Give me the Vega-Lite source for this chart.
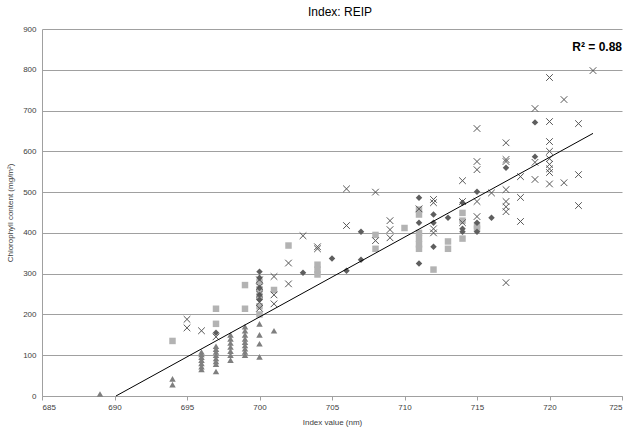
{
  "$schema": "https://vega.github.io/schema/vega-lite/v6.json",
  "width": 580,
  "height": 367,
  "autosize": {"type": "none"},
  "padding": {"left": 42, "top": 29, "right": 8, "bottom": 43},
  "background": "white",
  "config": {
    "font": "Liberation Sans",
    "view": {"stroke": null},
    "axis": {
      "labelFont": "Liberation Sans",
      "titleFont": "Liberation Sans",
      "labelFontSize": 8,
      "titleFontSize": 8,
      "titleFontWeight": "normal",
      "labelColor": "#404040",
      "titleColor": "#404040",
      "domainColor": "#a0a0a0",
      "tickColor": "#a0a0a0",
      "gridColor": "#a0a0a0",
      "gridOpacity": 1
    }
  },
  "title": {
    "text": "Index: REIP",
    "fontSize": 12,
    "fontWeight": "normal",
    "font": "Liberation Sans",
    "color": "#000000",
    "anchor": "middle",
    "offset": 6,
    "dx": 8
  },
  "datasets": {
    "pts": [
      {"x": 689, "y": 5, "s": "T"},
      {"x": 694, "y": 42, "s": "T"}, {"x": 694, "y": 28, "s": "T"},
      {"x": 696, "y": 65, "s": "T"}, {"x": 696, "y": 72, "s": "T"}, {"x": 696, "y": 80, "s": "T"}, {"x": 696, "y": 88, "s": "T"}, {"x": 696, "y": 95, "s": "T"}, {"x": 696, "y": 102, "s": "T"}, {"x": 696, "y": 108, "s": "T"},
      {"x": 697, "y": 60, "s": "T"}, {"x": 697, "y": 78, "s": "T"}, {"x": 697, "y": 85, "s": "T"}, {"x": 697, "y": 92, "s": "T"}, {"x": 697, "y": 100, "s": "T"}, {"x": 697, "y": 108, "s": "T"}, {"x": 697, "y": 115, "s": "T"}, {"x": 697, "y": 122, "s": "T"},
      {"x": 698, "y": 88, "s": "T"}, {"x": 698, "y": 100, "s": "T"}, {"x": 698, "y": 110, "s": "T"}, {"x": 698, "y": 120, "s": "T"}, {"x": 698, "y": 130, "s": "T"}, {"x": 698, "y": 140, "s": "T"}, {"x": 698, "y": 150, "s": "T"},
      {"x": 699, "y": 100, "s": "T"}, {"x": 699, "y": 108, "s": "T"}, {"x": 699, "y": 116, "s": "T"}, {"x": 699, "y": 124, "s": "T"}, {"x": 699, "y": 132, "s": "T"}, {"x": 699, "y": 140, "s": "T"}, {"x": 699, "y": 150, "s": "T"}, {"x": 699, "y": 160, "s": "T"}, {"x": 699, "y": 170, "s": "T"},
      {"x": 700, "y": 96, "s": "T"}, {"x": 700, "y": 128, "s": "T"}, {"x": 700, "y": 150, "s": "T"}, {"x": 700, "y": 177, "s": "T"},
      {"x": 701, "y": 160, "s": "T"},
      {"x": 694, "y": 135, "s": "S"},
      {"x": 697, "y": 214, "s": "S"}, {"x": 697, "y": 177, "s": "S"},
      {"x": 699, "y": 272, "s": "S"}, {"x": 699, "y": 214, "s": "S"},
      {"x": 700, "y": 200, "s": "S"}, {"x": 700, "y": 220, "s": "S"}, {"x": 700, "y": 245, "s": "S"}, {"x": 700, "y": 262, "s": "S"}, {"x": 700, "y": 280, "s": "S"},
      {"x": 701, "y": 260, "s": "S"},
      {"x": 702, "y": 369, "s": "S"},
      {"x": 704, "y": 298, "s": "S"}, {"x": 704, "y": 310, "s": "S"}, {"x": 704, "y": 322, "s": "S"},
      {"x": 708, "y": 395, "s": "S"}, {"x": 708, "y": 361, "s": "S"},
      {"x": 710, "y": 412, "s": "S"},
      {"x": 711, "y": 457, "s": "S"}, {"x": 711, "y": 445, "s": "S"}, {"x": 711, "y": 400, "s": "S"}, {"x": 711, "y": 386, "s": "S"}, {"x": 711, "y": 372, "s": "S"}, {"x": 711, "y": 361, "s": "S"},
      {"x": 712, "y": 310, "s": "S"},
      {"x": 713, "y": 379, "s": "S"}, {"x": 713, "y": 361, "s": "S"},
      {"x": 714, "y": 449, "s": "S"}, {"x": 714, "y": 430, "s": "S"}, {"x": 714, "y": 386, "s": "S"},
      {"x": 715, "y": 418, "s": "S"}, {"x": 715, "y": 410, "s": "S"},
      {"x": 697, "y": 155, "s": "D"},
      {"x": 700, "y": 305, "s": "D"}, {"x": 700, "y": 290, "s": "D"}, {"x": 700, "y": 265, "s": "D"}, {"x": 700, "y": 248, "s": "D"}, {"x": 700, "y": 236, "s": "D"},
      {"x": 703, "y": 302, "s": "D"},
      {"x": 705, "y": 337, "s": "D"},
      {"x": 706, "y": 307, "s": "D"},
      {"x": 707, "y": 403, "s": "D"}, {"x": 707, "y": 334, "s": "D"},
      {"x": 711, "y": 486, "s": "D"}, {"x": 711, "y": 425, "s": "D"}, {"x": 711, "y": 325, "s": "D"},
      {"x": 712, "y": 445, "s": "D"}, {"x": 712, "y": 425, "s": "D"}, {"x": 712, "y": 366, "s": "D"},
      {"x": 713, "y": 437, "s": "D"},
      {"x": 714, "y": 474, "s": "D"}, {"x": 714, "y": 410, "s": "D"}, {"x": 714, "y": 403, "s": "D"},
      {"x": 715, "y": 501, "s": "D"}, {"x": 715, "y": 425, "s": "D"}, {"x": 715, "y": 403, "s": "D"},
      {"x": 716, "y": 437, "s": "D"},
      {"x": 717, "y": 560, "s": "D"},
      {"x": 719, "y": 671, "s": "D"}, {"x": 719, "y": 587, "s": "D"},
      {"x": 695, "y": 188, "s": "X"}, {"x": 695, "y": 167, "s": "X"},
      {"x": 696, "y": 160, "s": "X"},
      {"x": 697, "y": 145, "s": "X"},
      {"x": 700, "y": 285, "s": "X"}, {"x": 700, "y": 268, "s": "X"}, {"x": 700, "y": 250, "s": "X"}, {"x": 700, "y": 230, "s": "X"}, {"x": 700, "y": 215, "s": "X"},
      {"x": 701, "y": 293, "s": "X"}, {"x": 701, "y": 248, "s": "X"}, {"x": 701, "y": 226, "s": "X"},
      {"x": 702, "y": 326, "s": "X"}, {"x": 702, "y": 275, "s": "X"},
      {"x": 703, "y": 393, "s": "X"},
      {"x": 704, "y": 366, "s": "X"}, {"x": 704, "y": 361, "s": "X"},
      {"x": 706, "y": 508, "s": "X"}, {"x": 706, "y": 418, "s": "X"},
      {"x": 708, "y": 500, "s": "X"}, {"x": 708, "y": 381, "s": "X"},
      {"x": 709, "y": 430, "s": "X"}, {"x": 709, "y": 408, "s": "X"}, {"x": 709, "y": 388, "s": "X"},
      {"x": 711, "y": 459, "s": "X"},
      {"x": 712, "y": 482, "s": "X"}, {"x": 712, "y": 474, "s": "X"}, {"x": 712, "y": 410, "s": "X"}, {"x": 712, "y": 400, "s": "X"},
      {"x": 714, "y": 528, "s": "X"}, {"x": 714, "y": 477, "s": "X"}, {"x": 714, "y": 425, "s": "X"},
      {"x": 715, "y": 656, "s": "X"}, {"x": 715, "y": 575, "s": "X"}, {"x": 715, "y": 555, "s": "X"}, {"x": 715, "y": 477, "s": "X"}, {"x": 715, "y": 440, "s": "X"},
      {"x": 716, "y": 498, "s": "X"},
      {"x": 717, "y": 621, "s": "X"}, {"x": 717, "y": 580, "s": "X"}, {"x": 717, "y": 575, "s": "X"}, {"x": 717, "y": 506, "s": "X"}, {"x": 717, "y": 477, "s": "X"}, {"x": 717, "y": 464, "s": "X"}, {"x": 717, "y": 452, "s": "X"}, {"x": 717, "y": 278, "s": "X"},
      {"x": 718, "y": 538, "s": "X"}, {"x": 718, "y": 487, "s": "X"}, {"x": 718, "y": 428, "s": "X"},
      {"x": 719, "y": 705, "s": "X"}, {"x": 719, "y": 573, "s": "X"}, {"x": 719, "y": 531, "s": "X"},
      {"x": 720, "y": 781, "s": "X"}, {"x": 720, "y": 673, "s": "X"}, {"x": 720, "y": 624, "s": "X"}, {"x": 720, "y": 600, "s": "X"}, {"x": 720, "y": 582, "s": "X"}, {"x": 720, "y": 568, "s": "X"}, {"x": 720, "y": 557, "s": "X"}, {"x": 720, "y": 548, "s": "X"}, {"x": 720, "y": 520, "s": "X"},
      {"x": 721, "y": 727, "s": "X"}, {"x": 721, "y": 523, "s": "X"},
      {"x": 722, "y": 668, "s": "X"}, {"x": 722, "y": 543, "s": "X"}, {"x": 722, "y": 467, "s": "X"},
      {"x": 723, "y": 798, "s": "X"}
    ],
    "trend": [
      {"x": 690.1, "y": 0},
      {"x": 723, "y": 644}
    ],
    "note": [
      {"x": 725, "y": 855, "label": "R² = 0.88"}
    ]
  },
  "encoding": {
    "x": {
      "field": "x",
      "type": "quantitative",
      "scale": {"domain": [685, 725], "nice": false, "zero": false},
      "axis": {
        "title": "Index value (nm)",
        "values": [685, 690, 695, 700, 705, 710, 715, 720, 725],
        "grid": false,
        "tickSize": 4,
        "labelPadding": 3,
        "titlePadding": 7
      }
    },
    "y": {
      "field": "y",
      "type": "quantitative",
      "scale": {"domain": [0, 900], "nice": false},
      "axis": {
        "title": "Chlorophyll content (mg/m²)",
        "values": [0, 100, 200, 300, 400, 500, 600, 700, 800, 900],
        "grid": true,
        "ticks": false,
        "labelPadding": 6,
        "titlePadding": 8
      }
    }
  },
  "layer": [
    {
      "data": {"name": "pts"},
      "transform": [{"filter": "datum.s !== 'X'"}],
      "mark": {"type": "point", "filled": true, "opacity": 1},
      "encoding": {
        "shape": {
          "field": "s",
          "type": "nominal",
          "scale": {"domain": ["D", "S", "T"], "range": ["diamond", "square", "triangle-up"]},
          "legend": null
        },
        "color": {
          "field": "s",
          "type": "nominal",
          "scale": {"domain": ["D", "S", "T"], "range": ["#5e5e5e", "#b3b3b3", "#7f7f7f"]},
          "legend": null
        },
        "size": {
          "field": "s",
          "type": "nominal",
          "scale": {"domain": ["D", "S", "T"], "range": [42, 42, 52]},
          "legend": null
        }
      }
    },
    {
      "data": {"name": "pts"},
      "transform": [{"filter": "datum.s === 'X'"}],
      "mark": {
        "type": "point",
        "filled": false,
        "shape": "M-1,-1L1,1M-1,1L1,-1",
        "size": 44,
        "stroke": "#555555",
        "strokeWidth": 1,
        "opacity": 1
      }
    },
    {
      "data": {"name": "trend"},
      "mark": {"type": "line", "color": "#000000", "strokeWidth": 1},
      "encoding": {}
    },
    {
      "data": {"name": "note"},
      "mark": {
        "type": "text",
        "align": "right",
        "baseline": "middle",
        "fontWeight": "bold",
        "fontSize": 12,
        "font": "Liberation Sans",
        "color": "#000000"
      },
      "encoding": {"text": {"field": "label"}}
    }
  ]
}
